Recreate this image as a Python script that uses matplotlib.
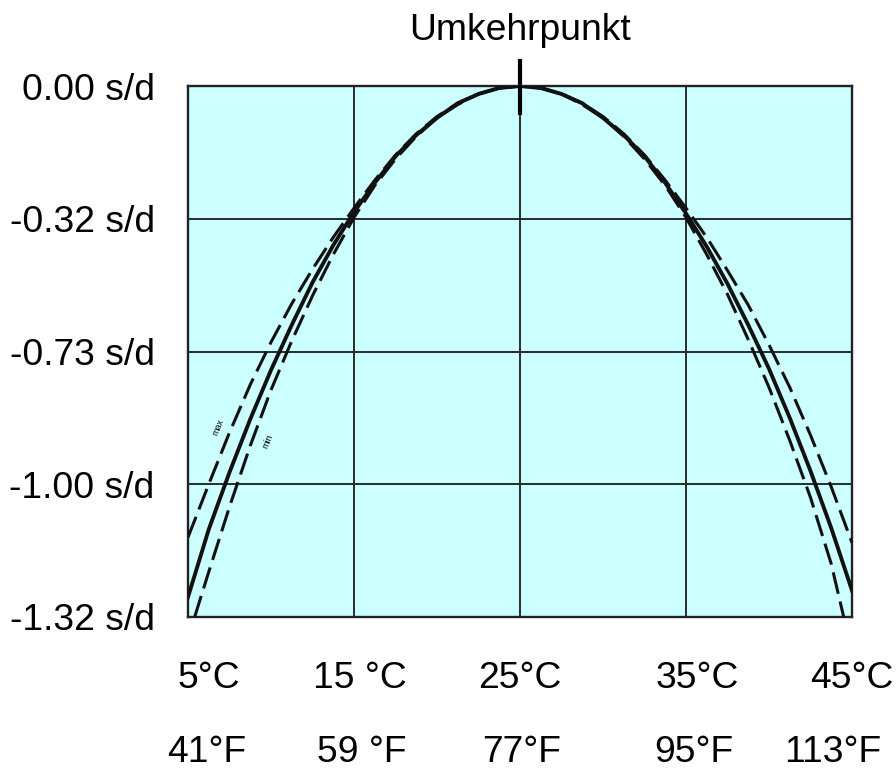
import matplotlib
matplotlib.use("Agg")
import matplotlib.pyplot as plt
import matplotlib.transforms as mtransforms

plt.rcParams['font.family'] = ['Liberation Sans', 'DejaVu Sans']

# Temperatur (°C) und Gangabweichung (Rasterposition, 0 = oben, -4 = unten)
temps = [5, 6.25, 7.5, 8.75, 10, 11.25, 12.5, 13.75, 15, 16.25, 17.5, 18.75, 20, 21.25, 22.5, 23.75, 25,
         26.25, 27.5, 28.75, 30, 31.25, 32.5, 33.75, 35, 36.25, 37.5, 38.75, 40, 41.25, 42.5, 43.75, 45]
gang_mittel = [-3.85, -3.34, -2.91, -2.51, -2.14, -1.80, -1.48, -1.20, -0.95, -0.73, -0.53, -0.37, -0.24, -0.13, -0.06, -0.015, 0,
               -0.015, -0.06, -0.13, -0.24, -0.37, -0.53, -0.73, -0.96, -1.21, -1.49, -1.80, -2.13, -2.50, -2.90, -3.33, -3.80]
gang_max = [-3.40, -3.00, -2.61, -2.25, -1.93, -1.64, -1.38, -1.14, -0.92, -0.71, -0.52, -0.36, -0.23, -0.13, -0.06, -0.015, 0,
            -0.015, -0.06, -0.13, -0.23, -0.36, -0.52, -0.71, -0.92, -1.14, -1.39, -1.65, -1.95, -2.27, -2.63, -3.02, -3.44]

temps_min = [5.4, 6.25, 7.5, 8.75, 10, 11.25, 12.5, 13.75, 15, 16.25, 17.5, 18.75, 20, 21.25, 22.5, 23.75, 25,
             26.25, 27.5, 28.75, 30, 31.25, 32.5, 33.75, 35, 36.25, 37.5, 38.75, 40, 41.25, 42.5, 43.75, 44.5]
gang_min = [-4.0, -3.66, -3.17, -2.71, -2.29, -1.92, -1.58, -1.27, -0.99, -0.75, -0.55, -0.38, -0.24, -0.14, -0.06, -0.015, 0,
            -0.015, -0.06, -0.14, -0.24, -0.38, -0.55, -0.75, -0.99, -1.27, -1.57, -1.91, -2.27, -2.67, -3.10, -3.60, -4.0]

y_pos = [0, -1, -2, -3, -4]
y_labels = ["0.00 s/d", "-0.32 s/d", "-0.73 s/d", "-1.00 s/d", "-1.32 s/d"]
x_grid = [5, 15, 25, 35, 45]
celsius = ["5°C", "15 °C", "25°C", "35°C", "45°C"]
celsius_x = [6.27, 15.36, 25, 35.66, 45]
fahrenheit = ["41°F", "59 °F", "77°F", "95°F", "113°F"]
fahrenheit_x = [6.14, 15.48, 25.1, 35.48, 43.86]

fig = plt.figure(figsize=(8.96, 7.7), dpi=100)
ax = fig.add_axes([188/896, 153/770, 664/896, 531/770])
ax.set_facecolor('#ccffff')
ax.set_xlim(5, 45)
ax.set_ylim(-4, 0)

for x in x_grid:
    ax.axvline(x, color='#2a2a2a', lw=1.4, zorder=1)
for y in y_pos:
    ax.axhline(y, color='#2a2a2a', lw=1.4, zorder=1)

ax.plot(temps, gang_max, color='#111111', lw=2.2, linestyle=(0, (7.2, 2.6)), zorder=3)
ax.plot(temps_min, gang_min, color='#111111', lw=2.2, linestyle=(0, (7.2, 2.6)), zorder=3)
ax.plot(temps, gang_mittel, color='#111111', lw=2.8, zorder=4)

ax.text(6.81, -2.57, "max", fontsize=6.5, rotation=68, ha='center', va='center', zorder=5)
ax.text(9.82, -2.68, "min", fontsize=6.5, rotation=68, ha='center', va='center', zorder=5)

ax.set_xticks([])
ax.set_yticks(y_pos)
ax.set_yticklabels(y_labels, fontsize=26.8)
ax.tick_params(axis='y', length=0, pad=24)
for s in ax.spines.values():
    s.set_color('#222222')
    s.set_linewidth(1.7)

trans = mtransforms.blended_transform_factory(ax.transData, fig.transFigure)
for x, lab in zip(celsius_x, celsius):
    ax.text(x, 1 - 678/770, lab, transform=trans, fontsize=26.8, ha='center', va='center')
for x, lab in zip(fahrenheit_x, fahrenheit):
    ax.text(x, 1 - 752/770, lab, transform=trans, fontsize=26.8, ha='center', va='center')

# Umkehrpunkt-Markierung
ax.plot([25, 25], [0.19, -0.2], color='black', lw=3, clip_on=False, zorder=6)
ax.text(25, 1 - 30/770, "Umkehrpunkt", transform=trans, fontsize=26.8, ha='center', va='center')

fig.savefig("out.png", dpi=100)
